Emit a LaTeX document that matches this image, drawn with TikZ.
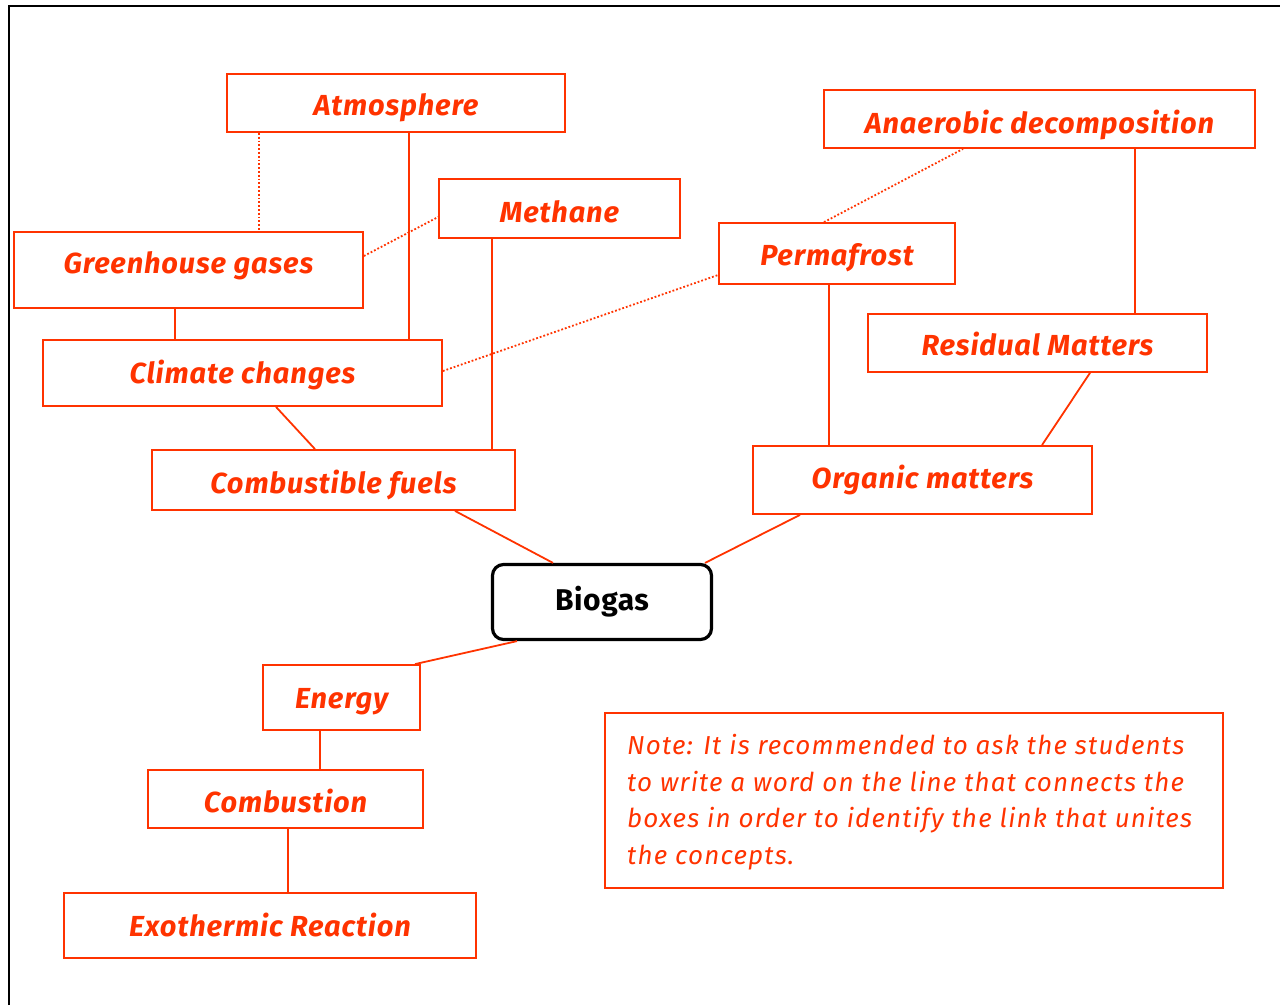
\documentclass[tikz,border=0pt]{standalone}
\usepackage{fontspec}
\newfontfamily\lblfont{Fira Sans}
\definecolor{cred}{HTML}{FF3300}
\begin{document}
\begin{tikzpicture}[x=1pt,y=-1pt,
  box/.style={draw=cred, line width=1.8pt, text=cred, inner sep=0pt, text depth=0pt,
    font=\lblfont\bfseries\itshape\fontsize{29}{32}\selectfont\addfontfeatures{LetterSpace=3}},
  link/.style={draw=cred, line width=1.8pt},
  dlink/.style={draw=cred, line width=1.8pt, dotted},
  frame/.style={draw=black, line width=2.5pt}]
\useasboundingbox (0,0) rectangle (1280,1005);
\draw[frame] (9,1005) -- (9,6) -- (1280,6);

\node[box, text height=24pt, minimum width=338, minimum height=58] (atm) at (396,103) {Atmosphere};
\node[box, text height=28pt, minimum width=431, minimum height=58] (ana) at (1039.5,119) {Anaerobic decomposition};
\node[box, text height=27pt, minimum width=241, minimum height=59] (meth) at (559.5,208.5) {Methane};
\node[box, text height=23pt, minimum width=236, minimum height=61] (perm) at (837,253.5) {Permafrost};
\node[box, text height=6pt, minimum width=349, minimum height=76] (ghg) at (188.5,270) {Greenhouse gases};
\node[box, text height=24pt, minimum width=339, minimum height=58] (res) at (1037.5,343) {Residual Matters};
\node[box, text height=20pt, minimum width=399, minimum height=66] (clim) at (242.5,373) {Climate changes};
\node[box, text height=26pt, minimum width=363, minimum height=60] (fuel) at (333.5,480) {Combustible fuels};
\node[box, text height=16pt, minimum width=339, minimum height=68] (org) at (922.5,480) {Organic matters};
\node[draw=black, line width=3.2pt, rounded corners=11pt, minimum width=219, minimum height=75,
  inner sep=0pt, text height=16pt, text depth=0pt,
  font=\lblfont\bfseries\fontsize{30}{32}\selectfont\addfontfeatures{LetterSpace=2}] (bio) at (602,602) {Biogas};
\node[box, text height=21pt, minimum width=157, minimum height=65] (ener) at (341.5,697.5) {Energy};
\node[box, text height=26pt, minimum width=275, minimum height=58] (comb) at (285.5,799) {Combustion};
\node[box, text height=21pt, minimum width=412, minimum height=65] (exo) at (270,925.5) {Exothermic Reaction};
\node[draw=cred, line width=1.8pt, minimum width=618, minimum height=175] (note) at (914,800.5) {};
\node[text=cred, anchor=north west, inner sep=0pt, align=left,
  font=\lblfont\itshape\fontsize{26}{36.7}\selectfont\addfontfeatures{LetterSpace=4.5}] (notetext) at (627,734)
  {Note: It is recommended to ask the students\\to write a word on the line that connects the\\boxes in order to identify the link that unites\\the concepts.};

\draw[dlink] (atm.south -| 259,0) -- (ghg.north -| 259,0);
\draw[link] (atm.south -| 409,0) -- (clim.north -| 409,0);
\draw[dlink] (ghg.east |- 0,256) -- (meth.west |- 0,217);
\draw[link] (meth.south -| 492,0) -- (fuel.north -| 492,0);
\draw[link] (ghg.south -| 175,0) -- (clim.north -| 175,0);
\draw[link] (clim.south -| 276,0) -- (fuel.north -| 315,0);
\draw[dlink] (clim.east |- 0,371) -- (perm.west |- 0,275);
\draw[dlink] (perm.north -| 824,0) -- (ana.south -| 963,0);
\draw[link] (perm.south -| 829,0) -- (org.north -| 829,0);
\draw[link] (ana.south -| 1135,0) -- (res.north -| 1135,0);
\draw[link] (res.south -| 1090,0) -- (org.north -| 1042,0);
\draw[link] (fuel.south -| 455,0) -- (bio.north -| 553,0);
\draw[link] (org.south -| 800,0) -- (bio.north -| 705,0);
\draw[link] (bio.south -| 517,0) -- (ener.north -| 415,0);
\draw[link] (ener.south -| 320,0) -- (comb.north -| 320,0);
\draw[link] (comb.south -| 288,0) -- (exo.north -| 288,0);
\end{tikzpicture}
\end{document}
